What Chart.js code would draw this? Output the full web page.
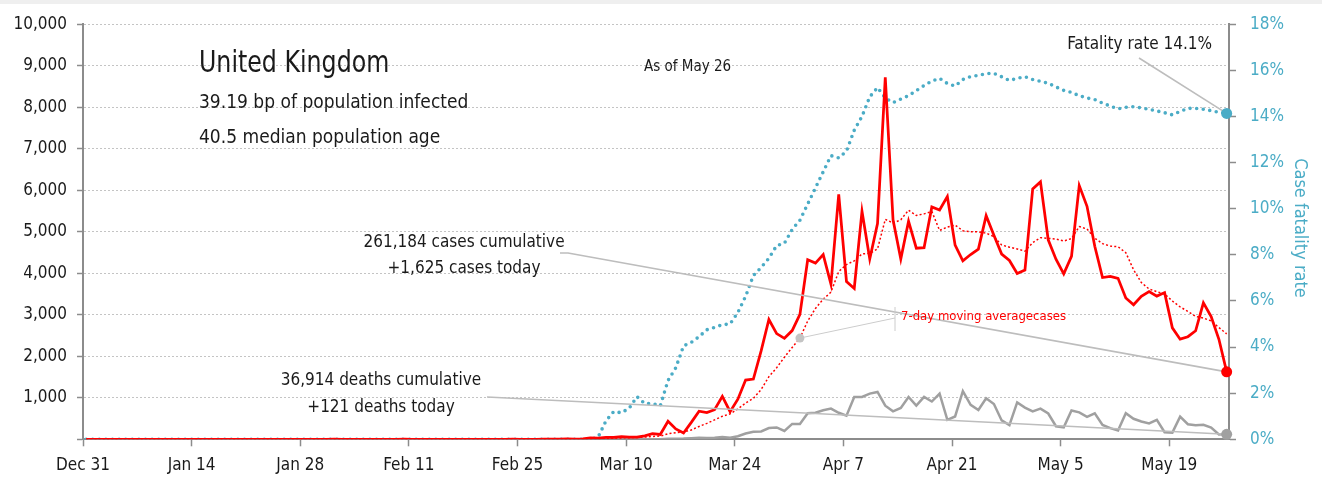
<!DOCTYPE html>
<html>
<head>
<meta charset="utf-8">
<title>United Kingdom – cases, deaths and case fatality rate</title>
<script src="https://cdn.jsdelivr.net/npm/chart.js@4"></script>
<style>
  html, body { margin: 0; padding: 0; background: #fff; }
  #wrap { position: relative; width: 1322px; height: 480px; }
  #band { position: absolute; left: 0; top: 0; width: 1322px; height: 4px; background: #efefef; }
  canvas { display: block; }
</style>
</head>
<body>
<div id="wrap">
  <canvas id="chart" width="1322" height="480"></canvas>
  <div id="band"></div>
</div>
<script>
// x axis labels, one every 14 days starting Dec 31
const tickLabels = ['Dec 31', 'Jan 14', 'Jan 28', 'Feb 11', 'Feb 25', 'Mar 10', 'Mar 24', 'Apr 7', 'Apr 21', 'May 5', 'May 19'];

// daily new cases, Dec 31 .. May 26
const cases = [
  0,
  0, 0, 0, 0, 0, 0, 0, 0, 0, 0, 0, 0, 0, 0, 0, 0, 0, 0, 0, 0, 0, 0, 0, 0, 0, 0, 0, 0, 0, 0, 0,
  2, 0, 0, 0, 0, 0, 1, 0, 0, 4, 0, 1, 0, 0, 0, 0, 0, 0, 0, 0, 0, 0, 0, 4, 0, 0, 0, 2, 5,
  3, 12, 5, 11, 34, 29, 46, 46, 65, 50, 52, 83, 134, 117, 433, 251, 152, 407, 676, 643, 714, 1035, 665, 967, 1427, 1452, 2129, 2885, 2546, 2433, 2619,
  3009, 4324, 4244, 4450, 3735, 5903, 3802, 3634, 5491, 4344, 5195, 8719, 5288, 4342, 5252, 4603, 4617, 5599, 5526, 5850, 4676, 4301, 4451, 4583, 5386, 4913, 4463, 4309, 3996, 4076,
  6032, 6201, 4806, 4339, 3985, 4406, 6111, 5614, 4649, 3896, 3923, 3877, 3403, 3242, 3446, 3560, 3450, 3534, 2684, 2412, 2472, 2615, 3287, 2959, 2409, 1625
];

// 7-day moving average of cases
const casesAvg = [
  0,
  0, 0, 0, 0, 0, 0, 0, 0, 0, 0, 0, 0, 0, 0, 0, 0, 0, 0, 0, 0, 0, 0, 0, 0, 0, 0, 0, 0, 0, 0, 0,
  0, 0, 0, 0, 0, 0, 0, 0, 0, 1, 1, 1, 1, 1, 1, 1, 0, 0, 0, 0, 0, 0, 0, 1, 1, 1, 1, 1, 2,
  2, 3, 4, 5, 10, 14, 20, 26, 34, 40, 46, 53, 68, 78, 133, 160, 175, 225, 310, 383, 468, 554, 613, 730, 875, 986, 1198, 1509, 1724, 1977, 2213,
  2439, 2849, 3151, 3375, 3545, 4041, 4210, 4299, 4466, 4480, 4586, 5298, 5210, 5288, 5519, 5392, 5431, 5489, 5032, 5113, 5160, 5025, 5003, 4998, 4968, 4880, 4682, 4629, 4586, 4532,
  4739, 4856, 4840, 4823, 4776, 4835, 5126, 5066, 4844, 4714, 4655, 4639, 4496, 4086, 3777, 3621, 3557, 3502, 3331, 3190, 3080, 2961, 2922, 2852, 2691, 2540
];

// daily new deaths
const deaths = [
  0,
  0, 0, 0, 0, 0, 0, 0, 0, 0, 0, 0, 0, 0, 0, 0, 0, 0, 0, 0, 0, 0, 0, 0, 0, 0, 0, 0, 0, 0, 0, 0,
  0, 0, 0, 0, 0, 0, 0, 0, 0, 0, 0, 0, 0, 0, 0, 0, 0, 0, 0, 0, 0, 0, 0, 0, 0, 0, 0, 0, 0,
  0, 0, 0, 0, 0, 1, 1, 0, 1, 3, 2, 1, 1, 1, 15, 16, 18, 26, 35, 34, 40, 53, 36, 75, 140, 180, 190, 270, 285, 200, 370,
  370, 630, 640, 700, 740, 640, 570, 1020, 1020, 1100, 1140, 810, 675, 755, 1020, 810, 1020, 910, 1100, 470, 550, 1160, 830, 705, 990, 850, 455, 340, 890, 765,
  674, 739, 621, 315, 288, 693, 649, 539, 626, 346, 268, 210, 627, 494, 428, 384, 468, 170, 160, 545, 363, 338, 351, 282, 118, 121
];

// cumulative case fatality rate, % (right axis)
const fatality = [
  0,
  0, 0, 0, 0, 0, 0, 0, 0, 0, 0, 0, 0, 0, 0, 0, 0, 0, 0, 0, 0, 0, 0, 0, 0, 0, 0, 0, 0, 0, 0, 0,
  0, 0, 0, 0, 0, 0, 0, 0, 0, 0, 0, 0, 0, 0, 0, 0, 0, 0, 0, 0, 0, 0, 0, 0, 0, 0, 0, 0, 0,
  0, 0, 0, 0, 0, 0.1, 0.8, 1.2, 1.15, 1.35, 1.85, 1.55, 1.55, 1.45, 2.55, 3.1, 4.05, 4.2, 4.45, 4.75, 4.85, 4.97, 5.0, 5.5, 6.2, 7.1, 7.45, 7.85, 8.4, 8.5, 9.1,
  9.5, 10.2, 10.9, 11.6, 12.3, 12.2, 12.5, 13.4, 14.0, 14.85, 15.25, 14.8, 14.6, 14.75, 14.9, 15.12, 15.34, 15.53, 15.65, 15.43, 15.32, 15.6, 15.73, 15.78, 15.86, 15.87, 15.72, 15.56, 15.65, 15.72,
  15.6, 15.52, 15.44, 15.28, 15.13, 15.04, 14.9, 14.8, 14.73, 14.58, 14.45, 14.33, 14.4, 14.42, 14.37, 14.31, 14.24, 14.16, 14.07, 14.22, 14.35, 14.35, 14.31, 14.25, 14.18, 14.13
];

const FONT = "'DejaVu Sans Condensed', 'DejaVu Sans', sans-serif";
const RED = '#ff0000';
const GREY = '#a0a0a0';
const TEAL = '#4bacc6';
const AXIS = '#8c8c8c';
const INK = '#1a1a1a';
const last = cases.length - 1;
const avgMarker = 92;

const toPoints = (arr) => arr.map((v, i) => ({ x: i, y: v }));

// text with an optional horizontal squeeze, the original face is narrower than ours
function label(ctx, str, x, y, size, align, color, squeeze = 1) {
  ctx.save();
  ctx.font = `${size}px ${FONT}`;
  ctx.fillStyle = color;
  ctx.textAlign = align;
  ctx.textBaseline = 'middle';
  ctx.translate(x, y);
  ctx.scale(squeeze, 1);
  ctx.fillText(str, 0, 0);
  ctx.restore();
}

const annotations = {
  id: 'annotations',
  afterDatasetsDraw(chart) {
    const { ctx, scales: { x, y, y2 } } = chart;
    const xEnd = x.getPixelForValue(last);

    ctx.save();
    ctx.lineCap = 'butt';

    // leader lines to the latest values
    ctx.strokeStyle = '#bdbdbd';
    ctx.lineWidth = 1.6;
    ctx.beginPath();
    ctx.moveTo(1139, 58);
    ctx.lineTo(xEnd, y2.getPixelForValue(fatality[last]));
    ctx.moveTo(560, 253);
    ctx.lineTo(568, 253);
    ctx.lineTo(xEnd, y.getPixelForValue(cases[last]));
    ctx.moveTo(487, 397);
    ctx.lineTo(xEnd, y.getPixelForValue(deaths[last]));
    ctx.stroke();

    // moving average label leader
    const mx = x.getPixelForValue(avgMarker);
    const my = y.getPixelForValue(casesAvg[avgMarker]);
    ctx.strokeStyle = '#cccccc';
    ctx.lineWidth = 1;
    ctx.beginPath();
    ctx.moveTo(mx, my);
    ctx.lineTo(895, 318);
    ctx.moveTo(895, 307);
    ctx.lineTo(895, 331);
    ctx.stroke();
    ctx.fillStyle = '#c4c4c4';
    ctx.beginPath();
    ctx.arc(mx, my, 4.5, 0, Math.PI * 2);
    ctx.fill();

    // end markers
    const dot = (px, py, color) => {
      ctx.fillStyle = color;
      ctx.beginPath();
      ctx.arc(px, py, 5.5, 0, Math.PI * 2);
      ctx.fill();
    };
    dot(xEnd, y.getPixelForValue(deaths[last]), GREY);
    dot(xEnd, y.getPixelForValue(cases[last]), RED);
    dot(xEnd, y2.getPixelForValue(fatality[last]), TEAL);
    ctx.restore();

    // texts
    label(ctx, 'United Kingdom', 199, 64, 31, 'left', INK, 0.85);
    label(ctx, '39.19 bp of population infected', 199, 103, 20, 'left', INK, 0.95);
    label(ctx, '40.5 median population age', 199, 138, 20, 'left', INK, 0.95);
    label(ctx, 'As of May 26', 644, 67, 15, 'left', INK);
    label(ctx, 'Fatality rate 14.1%', 1212, 45, 17, 'right', INK);
    label(ctx, '261,184 cases cumulative', 464, 243, 17, 'center', INK);
    label(ctx, '+1,625 cases today', 464, 269, 17, 'center', INK);
    label(ctx, '36,914 deaths cumulative', 381, 381, 17, 'center', INK);
    label(ctx, '+121 deaths today', 381, 408, 17, 'center', INK);
    label(ctx, '7-day moving averagecases', 901, 317, 13, 'left', RED);

    // right axis title, reading downwards
    ctx.save();
    ctx.font = `18px ${FONT}`;
    ctx.fillStyle = TEAL;
    ctx.textAlign = 'center';
    ctx.textBaseline = 'middle';
    ctx.translate(1300, 228);
    ctx.rotate(Math.PI / 2);
    ctx.fillText('Case fatality rate', 0, 0);
    ctx.restore();
  }
};

new Chart(document.getElementById('chart'), {
  type: 'line',
  data: {
    datasets: [
      {
        label: 'Cases',
        data: toPoints(cases),
        borderColor: RED,
        borderWidth: 2.75,
        pointRadius: 0,
        tension: 0,
        yAxisID: 'y'
      },
      {
        label: 'Case fatality rate',
        data: toPoints(fatality),
        borderColor: TEAL,
        borderWidth: 3.6,
        borderDash: [0, 6.6],
        borderCapStyle: 'round',
        pointRadius: 0,
        tension: 0,
        yAxisID: 'y2'
      },
      {
        label: '7-day moving average',
        data: toPoints(casesAvg),
        borderColor: RED,
        borderWidth: 1.5,
        borderDash: [2, 2.2],
        pointRadius: 0,
        tension: 0,
        yAxisID: 'y'
      },
      {
        label: 'Deaths',
        data: toPoints(deaths),
        borderColor: GREY,
        borderWidth: 2.5,
        pointRadius: 0,
        tension: 0,
        yAxisID: 'y'
      }
    ]
  },
  options: {
    responsive: false,
    animation: false,
    devicePixelRatio: 1,
    layout: { padding: { top: 15.3, left: 0, right: 0, bottom: 0 } },
    plugins: {
      legend: { display: false },
      tooltip: { enabled: false }
    },
    scales: {
      x: {
        type: 'linear',
        min: -0.4,
        max: 147.3,
        afterBuildTicks: (scale) => {
          scale.ticks = tickLabels.map((_, i) => ({ value: i * 14 - 0.4 }));
        },
        afterFit: (scale) => { scale.height = 40.7; },
        ticks: {
          autoSkip: false,
          maxRotation: 0,
          padding: 9,
          color: INK,
          font: { family: FONT, size: 17 },
          callback: (value, index) => tickLabels[index]
        },
        grid: { drawOnChartArea: false, tickLength: 7, tickColor: AXIS, tickWidth: 1.5 },
        border: { color: AXIS, width: 2 }
      },
      y: {
        position: 'left',
        min: 0,
        max: 10000,
        afterFit: (scale) => { scale.width = 83; },
        ticks: {
          stepSize: 1000,
          padding: 10,
          color: INK,
          font: { family: FONT, size: 17 },
          callback: (value) => (value === 0 ? '' : value.toLocaleString('en-US'))
        },
        grid: { color: '#c4c4c4', lineWidth: 1, tickLength: 6, tickColor: AXIS, tickWidth: 1.5 },
        border: { color: AXIS, width: 2, dash: [2, 2] }
      },
      y2: {
        position: 'right',
        min: 0,
        max: 18,
        afterFit: (scale) => { scale.width = 93; },
        ticks: {
          stepSize: 2,
          padding: 14,
          color: TEAL,
          font: { family: FONT, size: 17 },
          callback: (value) => value + '%'
        },
        grid: { drawOnChartArea: false, tickLength: 7, tickColor: AXIS, tickWidth: 1.5 },
        border: { color: AXIS, width: 2 }
      }
    }
  },
  plugins: [annotations]
});
</script>
</body>
</html>
